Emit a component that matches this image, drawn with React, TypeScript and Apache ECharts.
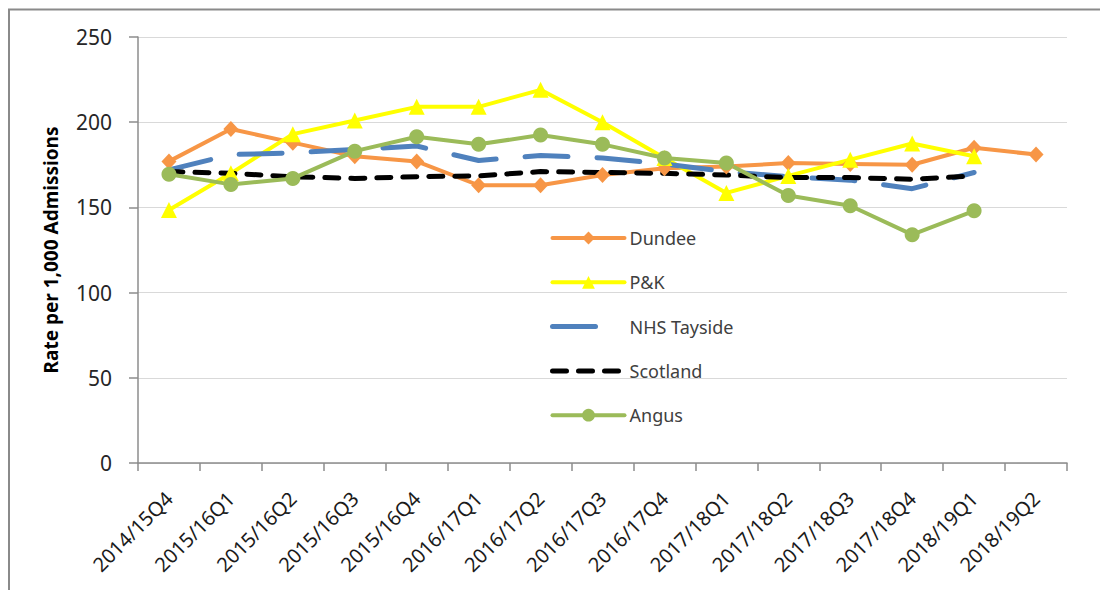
import React, { useEffect, useRef } from "react";
import * as echarts from "echarts";

// Quarterly periods on the category axis
const quarters = [
  "2014/15Q4", "2015/16Q1", "2015/16Q2", "2015/16Q3", "2015/16Q4",
  "2016/17Q1", "2016/17Q2", "2016/17Q3", "2016/17Q4", "2017/18Q1",
  "2017/18Q2", "2017/18Q3", "2017/18Q4", "2018/19Q1", "2018/19Q2",
];

// Rate per 1,000 admissions by area
const dundee = [177, 196, 188, 180, 177, 163, 163, 169, 173, 174, 176, 175.5, 175, 185, 181];
const perthKinross = [148.5, 170, 193, 201, 209, 209, 219, 200, 179, 158.5, 168.5, 178, 187.5, 180, null];
const nhsTayside = [172, 181, 182, 184, 186, 177.5, 180.5, 179, 175.5, 171, 168, 166, 161, 170.5, null];
const scotland = [171, 170, 168, 167, 168, 168.5, 171, 170.5, 170, 169, 167.5, 167.5, 166.5, 168.5, null];
const angus = [169.5, 163.5, 167, 183, 191.5, 187, 192.5, 187, 179, 176, 157, 151, 134, 148, null];

const yTicks = { min: 0, max: 250, interval: 50 };
const yAxisTitle = "Rate per 1,000 Admissions";

const FONT = "Noto Sans";

export default function App() {
  const ref = useRef<HTMLDivElement>(null);

  useEffect(() => {
    if (!ref.current) return;
    const chart = echarts.init(ref.current, null, { renderer: "svg" });

    const lineSeries = (
      name: string,
      data: (number | null)[],
      color: string,
      symbol: string,
      symbolSize: number | number[],
      showSymbol: boolean,
      lineStyle: any
    ) => ({
      name,
      type: "line",
      data,
      symbol,
      symbolSize,
      showSymbol,
      connectNulls: false,
      itemStyle: { color },
      lineStyle: { color, ...lineStyle },
      emphasis: { disabled: true },
    });

    // dashed series carry no markers, so their legend symbol is hidden
    const noMarker = { color: "rgba(0,0,0,0)", borderWidth: 0 };

    chart.setOption({
      animation: false,
      backgroundColor: "#ffffff",
      textStyle: { fontFamily: FONT },
      graphic: [
        {
          type: "rect",
          shape: { x: 9, y: 9.5, width: 1200, height: 700 },
          style: { fill: "none", stroke: "#8a8a8a", lineWidth: 2 },
          silent: true,
        },
        {
          type: "text",
          x: 51,
          y: 250,
          rotation: Math.PI / 2,
          silent: true,
          style: {
            text: yAxisTitle,
            fontFamily: FONT,
            fontSize: 19,
            fontWeight: "bold",
            fill: "#000000",
            align: "center",
            verticalAlign: "middle",
          },
        },
      ],
      grid: { left: 138, top: 37, right: 33, bottom: 127, containLabel: false },
      legend: {
        orient: "vertical",
        left: 550,
        top: 228,
        padding: 0,
        itemWidth: 72,
        itemHeight: 16,
        itemGap: 24.3,
        selectedMode: false,
        lineStyle: { width: "inherit", type: "inherit", cap: "round" },
        textStyle: { fontFamily: FONT, fontSize: 18, color: "#404040", lineHeight: 20 },
        data: [
          { name: "Dundee" },
          { name: "P&K" },
          { name: "NHS Tayside", itemStyle: noMarker },
          { name: "Scotland", itemStyle: noMarker },
          { name: "Angus" },
        ],
      },
      xAxis: {
        type: "category",
        data: quarters,
        boundaryGap: true,
        axisLine: { lineStyle: { color: "#8c8c8c", width: 1.5 } },
        axisTick: { show: true, length: 8, alignWithLabel: false, lineStyle: { color: "#8c8c8c", width: 1.5 } },
        axisLabel: {
          rotate: 45,
          interval: 0,
          margin: 32,
          fontFamily: FONT,
          fontSize: 20,
          color: "#1a1a1a",
        },
        splitLine: { show: false },
      },
      yAxis: {
        type: "value",
        min: yTicks.min,
        max: yTicks.max,
        interval: yTicks.interval,
        axisLine: { show: true, lineStyle: { color: "#8c8c8c", width: 1.5 } },
        axisTick: { show: true, length: 9, lineStyle: { color: "#8c8c8c", width: 1.5 } },
        axisLabel: { margin: 26, fontFamily: FONT, fontSize: 21, color: "#262626" },
        splitLine: { show: true, lineStyle: { color: "#d9d9d9", width: 1 } },
      },
      series: [
        lineSeries("Dundee", dundee, "#F79646", "diamond", [15, 16], true, { width: 4 }),
        lineSeries("P&K", perthKinross, "#FFFF00", "triangle", 16, true, { width: 4 }),
        lineSeries("NHS Tayside", nhsTayside, "#4F81BD", "circle", 1, false, {
          width: 5,
          type: [43, 29],
          cap: "round",
        }),
        lineSeries("Scotland", scotland, "#000000", "circle", 1, false, {
          width: 5,
          type: [14, 12],
          cap: "round",
        }),
        lineSeries("Angus", angus, "#9BBB59", "circle", 15, true, { width: 4 }),
      ],
    });

    return () => chart.dispose();
  }, []);

  return (
    <div
      ref={ref}
      style={{ position: "fixed", left: 0, top: 0, width: 1100, height: 590 }}
    />
  );
}
